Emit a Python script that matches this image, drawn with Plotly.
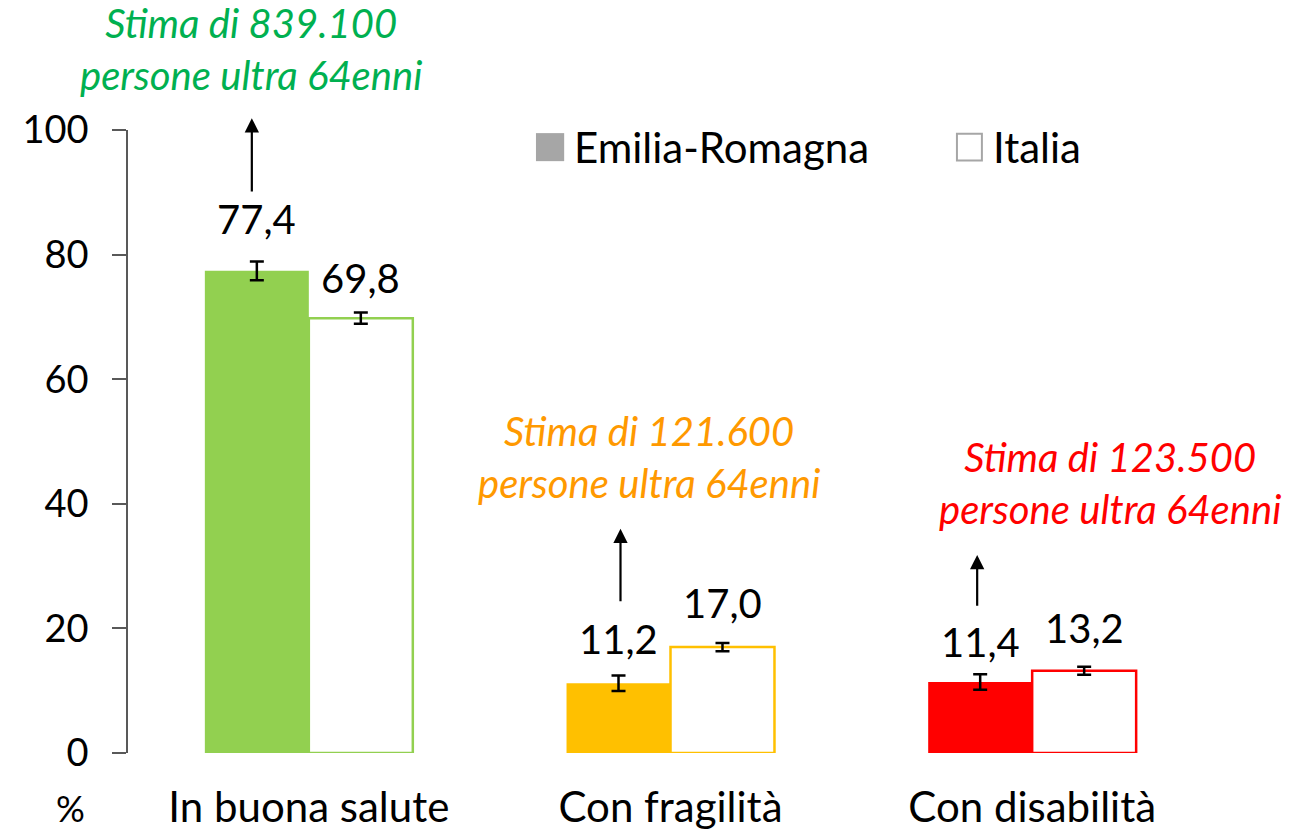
import plotly.graph_objects as go

categories = ["In buona salute", "Con fragilità", "Con disabilità"]
er_values = [77.4, 11.2, 11.4]
it_values = [69.8, 17.0, 13.2]
er_err = [1.5, 1.25, 1.25]
it_err = [0.9, 0.65, 0.65]
bar_colors = ["#92D050", "#FFC000", "#FF0000"]
note_texts = ["Stima di 839.100<br>persone ultra 64enni",
              "Stima di 121.600<br>persone ultra 64enni",
              "Stima di 123.500<br>persone ultra 64enni"]
note_colors = ["#00B050", "#FF9900", "#FF0000"]
y_ticks = [0, 20, 40, 60, 80, 100]

FONT = "Lato"

def fmt(v):
    return f"{v:.1f}".replace(".", ",")

fig = go.Figure()
fig.add_trace(go.Bar(
    x=categories, y=er_values, name="Emilia-Romagna",
    marker=dict(color=bar_colors, line=dict(color=bar_colors, width=0)),
    error_y=dict(type="data", array=er_err, color="black", thickness=2.5, width=7),
    showlegend=False,
))
fig.add_trace(go.Bar(
    x=categories, y=it_values, name="Italia",
    marker=dict(color="white", line=dict(color=bar_colors, width=2.5)),
    error_y=dict(type="data", array=it_err, color="black", thickness=2.5, width=7),
    showlegend=False,
))

annotations = []
# value labels
er_label_shift = [52, 44, 40]
it_label_shift = [40, 44, 43]
for i, c in enumerate(categories):
    annotations.append(dict(x=c, y=er_values[i], xref="x", yref="y", text=fmt(er_values[i]),
                            showarrow=False, xshift=-52, yshift=er_label_shift[i],
                            yanchor="middle", font=dict(family=FONT, size=40, color="black")))
    annotations.append(dict(x=c, y=it_values[i], xref="x", yref="y", text=fmt(it_values[i]),
                            showarrow=False, xshift=52, yshift=it_label_shift[i],
                            yanchor="middle", font=dict(family=FONT, size=40, color="black")))

# arrows (offsets relative to the ER value)
arrow_tail = [12.5, 12.9, 12.0]
arrow_len = [12.0, 11.9, 8.4]
arrow_xshift = [-57, -50, -55]
for i, c in enumerate(categories):
    tail = er_values[i] + arrow_tail[i]
    annotations.append(dict(x=c, y=tail + arrow_len[i], xref="x", yref="y",
                            ax=c, ay=tail, axref="x", ayref="y", text="",
                            showarrow=True, arrowhead=2, arrowsize=1.3, arrowwidth=2.2,
                            arrowcolor="black", xshift=arrow_xshift[i], standoff=0))

# estimate notes
annotations.append(dict(x=0.113, y=1.13, xref="paper", yref="paper", text=note_texts[0],
                        showarrow=False, xanchor="center", yanchor="middle",
                        font=dict(family=FONT, size=40, color=note_colors[0], style="italic")))
note_y = [None, 47.5, 43.3]
note_xshift = [None, -22, 78]
for i in (1, 2):
    annotations.append(dict(x=categories[i], y=note_y[i], xref="x", yref="y", text=note_texts[i],
                            showarrow=False, xshift=note_xshift[i], yanchor="middle",
                            font=dict(family=FONT, size=40, color=note_colors[i], style="italic")))

# percent label
annotations.append(dict(x=-0.053, y=-0.088, xref="paper", yref="paper", text="%",
                        showarrow=False, xanchor="center", yanchor="middle",
                        font=dict(family=FONT, size=36, color="black")))

# manual legend
annotations.append(dict(x=0.409, y=0.973, xref="paper", yref="paper", text="Emilia-Romagna",
                        showarrow=False, xanchor="left", yanchor="middle",
                        font=dict(family=FONT, size=42, color="black")))
annotations.append(dict(x=0.795, y=0.973, xref="paper", yref="paper", text="Italia",
                        showarrow=False, xanchor="left", yanchor="middle",
                        font=dict(family=FONT, size=42, color="black")))
shapes = [
    dict(type="rect", xref="paper", yref="paper", x0=0.376, x1=0.402, y0=0.950, y1=0.995,
         fillcolor="#A6A6A6", line=dict(width=0)),
    dict(type="rect", xref="paper", yref="paper", x0=0.764, x1=0.787, y0=0.951, y1=0.994,
         fillcolor="white", line=dict(color="#A6A6A6", width=2)),
]

fig.update_layout(
    width=1297, height=833,
    margin=dict(l=120, r=92, t=122, b=88, autoexpand=False),
    paper_bgcolor="white", plot_bgcolor="white",
    barmode="group", bargap=0.425, bargroupgap=0,
    annotations=annotations, shapes=shapes,
    font=dict(family=FONT, color="black"),
)
fig.update_xaxes(range=[-0.5, 2.5], showline=False, showgrid=False, ticks="", automargin=False,
                 tickfont=dict(family=FONT, size=42, color="black"), ticklabelstandoff=26)
fig.update_yaxes(range=[0, 100], tickvals=y_ticks, showgrid=False, zeroline=False, automargin=False,
                 showline=True, linecolor="#595959", linewidth=1.5,
                 ticks="outside", ticklen=14, tickcolor="#595959", tickwidth=1.5,
                 tickfont=dict(family=FONT, size=38, color="black"), ticklabelstandoff=16)

fig.write_html("out.html")
